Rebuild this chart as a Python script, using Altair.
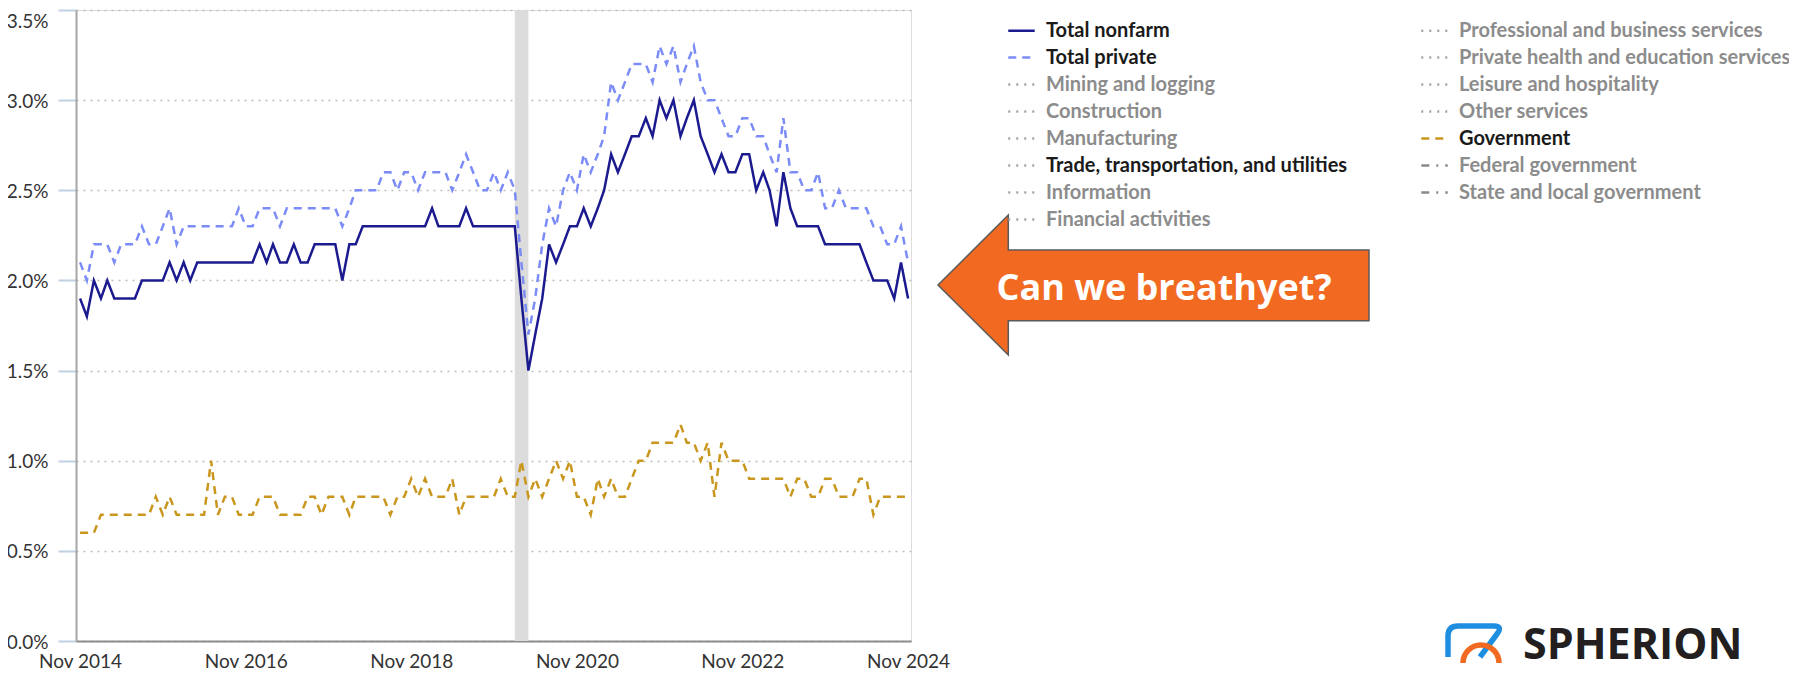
import altair as alt
import pandas as pd

# ---------------- data ----------------
months = pd.date_range("2014-11-01", periods=121, freq="MS").strftime("%Y-%m-%d").tolist()

total_nonfarm = [
    1.9, 1.8, 2.0, 1.9, 2.0, 1.9, 1.9, 1.9, 1.9,
    2.0, 2.0, 2.0, 2.0,
    2.1, 2.0, 2.1, 2.0,
    2.1, 2.1, 2.1, 2.1, 2.1, 2.1, 2.1, 2.1, 2.1,
    2.2, 2.1, 2.2, 2.1, 2.1, 2.2, 2.1, 2.1, 2.2, 2.2, 2.2, 2.2, 2.0, 2.2, 2.2,
    2.3, 2.3, 2.3, 2.3, 2.3, 2.3, 2.3, 2.3, 2.3, 2.3,
    2.4, 2.3, 2.3, 2.3, 2.3, 2.4, 2.3, 2.3, 2.3, 2.3, 2.3, 2.3, 2.3,
    1.9, 1.5, 1.7, 1.9, 2.2, 2.1, 2.2, 2.3, 2.3, 2.4, 2.3, 2.4, 2.5, 2.7, 2.6, 2.7, 2.8,
    2.8, 2.9, 2.8, 3.0, 2.9, 3.0, 2.8, 2.9, 3.0, 2.8, 2.7, 2.6, 2.7, 2.6, 2.6, 2.7, 2.7, 2.5, 2.6, 2.5,
    2.3, 2.6, 2.4, 2.3, 2.3, 2.3, 2.3, 2.2, 2.2, 2.2, 2.2, 2.2, 2.2, 2.1, 2.0, 2.0, 2.0, 1.9, 2.1, 1.9,
]

total_private = [
    2.1, 2.0, 2.2, 2.2, 2.2, 2.1, 2.2, 2.2, 2.2, 2.3, 2.2, 2.2, 2.3, 2.4,
    2.2, 2.3, 2.3, 2.3, 2.3, 2.3, 2.3, 2.3, 2.3, 2.4, 2.3, 2.3, 2.4, 2.4, 2.4,
    2.3, 2.4, 2.4, 2.4, 2.4, 2.4, 2.4, 2.4, 2.4, 2.3, 2.4, 2.5,
    2.5, 2.5, 2.5, 2.6, 2.6, 2.5, 2.6, 2.6, 2.5, 2.6, 2.6, 2.6, 2.6, 2.5, 2.6, 2.7, 2.6, 2.5, 2.5, 2.6, 2.5, 2.6, 2.5,
    2.1, 1.7, 1.9, 2.2, 2.4, 2.3, 2.5, 2.6, 2.5, 2.7, 2.6, 2.7, 2.8, 3.1, 3.0, 3.1, 3.2,
    3.2, 3.2, 3.1, 3.3, 3.2, 3.3, 3.1, 3.2, 3.3, 3.1, 3.0, 3.0, 2.9, 2.8, 2.8, 2.9, 2.9, 2.8, 2.8, 2.7,
    2.6, 2.9, 2.6, 2.6, 2.5, 2.5, 2.6, 2.4, 2.4, 2.5, 2.4, 2.4, 2.4, 2.4, 2.3, 2.3, 2.2, 2.2, 2.3, 2.1,
]

government = [
    0.6, 0.6, 0.6, 0.7, 0.7, 0.7, 0.7, 0.7, 0.7, 0.7, 0.7,
    0.8, 0.7, 0.8, 0.7, 0.7, 0.7, 0.7, 0.7, 1.0, 0.7,
    0.8, 0.8, 0.7, 0.7, 0.7, 0.8, 0.8, 0.8, 0.7, 0.7, 0.7, 0.7, 0.8, 0.8, 0.7, 0.8, 0.8, 0.8, 0.7, 0.8,
    0.8, 0.8, 0.8, 0.8, 0.7, 0.8, 0.8, 0.9, 0.8, 0.9, 0.8, 0.8, 0.8, 0.9, 0.7, 0.8, 0.8, 0.8, 0.8, 0.8,
    0.9, 0.8, 0.8, 1.0, 0.8, 0.9, 0.8, 0.9, 1.0, 0.9, 1.0, 0.8, 0.8, 0.7, 0.9, 0.8, 0.9, 0.8, 0.8, 0.9,
    1.0, 1.0, 1.1, 1.1, 1.1, 1.1, 1.2, 1.1, 1.1, 1.0, 1.1, 0.8, 1.1, 1.0, 1.0, 1.0, 0.9, 0.9, 0.9, 0.9,
    0.9, 0.9, 0.8, 0.9, 0.9, 0.8, 0.8, 0.9, 0.9, 0.8, 0.8, 0.8, 0.9, 0.9, 0.7, 0.8, 0.8, 0.8, 0.8, 0.8,
]

recession_start = ["2020-02-01"]
recession_end = ["2020-04-01"]

y_ticks = [0.0, 0.5, 1.0, 1.5, 2.0, 2.5, 3.0, 3.5]
x_tick_years = [2014, 2016, 2018, 2020, 2022, 2024]

legend_col1 = ["Total nonfarm", "Total private", "Mining and logging", "Construction",
               "Manufacturing", "Trade, transportation, and utilities", "Information",
               "Financial activities"]
legend_col2 = ["Professional and business services", "Private health and education services",
               "Leisure and hospitality", "Other services", "Government",
               "Federal government", "State and local government"]
highlighted = ["Total nonfarm", "Total private", "Trade, transportation, and utilities", "Government"]

arrow_text = ["Can we breathyet?"]
logo_text = ["SPHERION"]

# ---------------- styles ----------------
GRAY = "#a3a3a3"
DOT = [2, 6]
style = {
    "Total nonfarm": ("#1b1b8f", [1, 0]),
    "Total private": ("#7b8cf6", [8, 6]),
    "Government": ("#c9961e", [8, 6]),
    "Federal government": ("#8a8a8a", [8, 7, 2, 7]),
    "State and local government": ("#8a8a8a", [8, 7, 2, 7]),
}
# the legend fills its columns top to bottom
legend_order = legend_col1 + legend_col2
colors = [style.get(n, (GRAY, DOT))[0] for n in legend_order]
dashes = [style.get(n, (GRAY, DOT))[1] for n in legend_order]

lines_df = pd.DataFrame({
    "month": months * 3,
    "series": ["Government"] * 121 + ["Total private"] * 121 + ["Total nonfarm"] * 121,
    "rate": government + total_private + total_nonfarm,
})
rec_df = pd.DataFrame({"start": recession_start, "end": recession_end})

x_scale = alt.Scale(domain=[alt.DateTime(year=2014, month=10, date=14),
                            alt.DateTime(year=2024, month=11, date=14)])
x_axis = alt.Axis(
    values=[alt.DateTime(year=y, month=11, date=1) for y in x_tick_years],
    format="%b %Y", title=None, ticks=False, grid=False,
    labelFont="Lato", labelFontSize=19, labelColor="#333333", labelPadding=11,
    domainColor="#8c8c8c", domainWidth=2, labelOverlap=False,
)
y_axis = alt.Axis(
    values=y_ticks, labelExpr="format(datum.value, '.1f') + '%'", title=None,
    labelFont="Lato", labelFontSize=19, labelColor="#333333",
    tickColor="#bfd1e3", tickSize=18, tickWidth=2, labelPadding=10,
    domainColor="#a6a6a6", domainWidth=2,
    grid=True, gridColor="#bdbdbd", gridDash=[2, 5], gridWidth=1.5,
    labelOffset={"condition": {"test": "datum.value >= 3.4", "value": 11}, "value": 1},
)

hl_list = ", ".join("'" + h + "'" for h in highlighted)
legend = alt.Legend(
    title=None, orient="none", legendX=931, legendY=6, columns=2,
    columnPadding=68, rowPadding=2, symbolType="stroke", symbolSize=700,
    symbolStrokeWidth=2.5, labelFont="Lato", labelFontSize=20, labelFontWeight="bold",
    labelColor=alt.ExprRef("indexof([" + hl_list + "], datum.label) >= 0 ? '#1a1a1a' : '#8c8c8c'"),
    labelOffset=10, labelLimit=500, padding=0,
)

rec = alt.Chart(rec_df).mark_rect(color="#dcdcdc").encode(
    x=alt.X("start:T", scale=x_scale, axis=x_axis),
    x2="end:T",
)

lines = alt.Chart(lines_df).mark_line(strokeWidth=2.5).encode(
    x=alt.X("month:T", scale=x_scale, axis=x_axis),
    y=alt.Y("rate:Q", scale=alt.Scale(domain=[0, 3.5]), axis=y_axis),
    color=alt.Color("series:N", scale=alt.Scale(domain=legend_order, range=colors), legend=legend),
    strokeDash=alt.StrokeDash("series:N", scale=alt.Scale(domain=legend_order, range=dashes), legend=legend),
)

one = pd.DataFrame({"k": [0]})
arrow_path = ("M862,275 L932.3,205 L932.3,240 L1293,240 L1293,310.7 "
              "L932.3,310.7 L932.3,345 Z")
arrow = alt.Chart(one).mark_point(
    shape=arrow_path, size=4, filled=True, fill="#f26a21", stroke="#5a5a5a",
    strokeWidth=1.5, opacity=1,
).encode(x=alt.value(0), y=alt.value(0))

arrow_label = alt.Chart(pd.DataFrame({"t": arrow_text})).mark_text(
    font="Open Sans", fontSize=36, fontWeight="bold", color="white",
    align="center", baseline="alphabetic",
).encode(x=alt.value(1088), y=alt.value(290), text="t:N")

logo_blue = alt.Chart(one).mark_point(
    shape="M1372,647 L1372,626 Q1372,616 1382,616 L1418,616 Q1427,616 1421,624 L1404,647",
    size=4, filled=False, stroke="#1e8fe0", strokeWidth=5.5, opacity=1,
).encode(x=alt.value(0), y=alt.value(0))
logo_orange = alt.Chart(one).mark_point(
    shape="M1387,653 A18,18 0 0 1 1423,653",
    size=4, filled=False, stroke="#f26a21", strokeWidth=5.5, opacity=1,
).encode(x=alt.value(0), y=alt.value(0))
logo_label = alt.Chart(pd.DataFrame({"t": logo_text})).mark_text(
    font="Open Sans", fontSize=43, fontWeight="bold", color="#231f20",
    align="left", baseline="alphabetic",
).encode(x=alt.value(1447), y=alt.value(649), text="t:N")

chart = alt.layer(rec, lines, arrow, arrow_label, logo_blue, logo_orange, logo_label).properties(
    width=835, height=631,
    autosize=alt.AutoSizeParams(type="none"),
    padding={"left": 68, "top": 2, "right": 878, "bottom": 32},
).configure_view(strokeWidth=0).configure(background="white")

chart.save("out.html", embed_options={"renderer": "svg", "actions": False})
